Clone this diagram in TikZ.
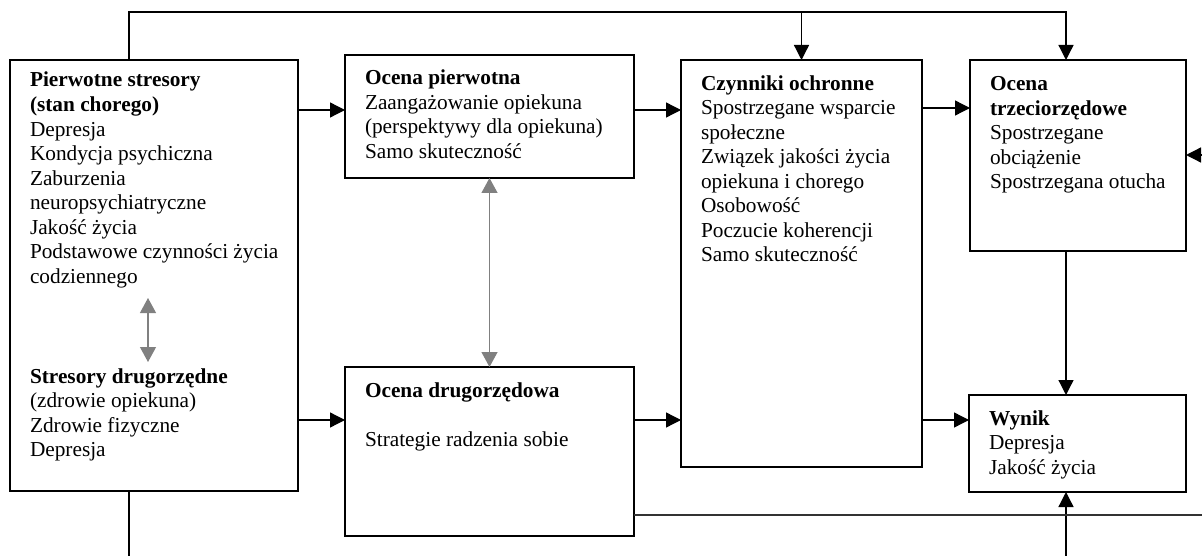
\documentclass[tikz,border=0pt]{standalone}
\usepackage{fontspec}
\setmainfont{Liberation Serif}
\usetikzlibrary{arrows.meta}
\newcommand{\fs}{\fontsize{21.3pt}{24.5pt}\selectfont}
\tikzset{
 box/.style={draw=black, line width=1.3pt, anchor=north west, inner sep=0pt, outer sep=0pt},
 txt/.style={anchor=north west, inner sep=0pt, outer sep=0pt, align=left, font=\fs},
 arr/.style={draw=black, line width=1.3pt, -{Triangle[length=15pt,width=15pt]}},
 ln/.style={draw=black, line width=1.3pt},
 thickln/.style={draw=black!80, line width=2.2pt},
 garr/.style={draw=black!50, line width=1.2pt, {Triangle[length=15pt,width=16pt]}-{Triangle[length=15pt,width=16pt]}},
}
\begin{document}
\begin{tikzpicture}[x=1pt,y=-1pt]
\useasboundingbox (0,0) rectangle (1202,556);
% boxes
\node[box, minimum width=288pt, minimum height=431pt] (L) at (10,60) {};
\node[box, minimum width=289pt, minimum height=123pt] (P) at (345,55) {};
\node[box, minimum width=289pt, minimum height=169pt] (D) at (345,367) {};
\node[box, minimum width=241pt, minimum height=407pt] (C) at (681,60) {};
\node[box, minimum width=216pt, minimum height=191pt] (T) at (970,60) {};
\node[box, minimum width=217pt, minimum height=97pt] (W) at (969,395) {};
% texts
\node[txt] (tL1) at (30,{87-17.15}) {\strut\textbf{Pierwotne stresory}\\\textbf{(stan chorego)}\\Depresja\\Kondycja psychiczna\\Zaburzenia\\neuropsychiatryczne\\Jakość życia\\Podstawowe czynności życia\\codziennego};
\node[txt] (tL2) at (30,{383-17.15}) {\strut\textbf{Stresory drugorzędne}\\(zdrowie opiekuna)\\Zdrowie fizyczne\\Depresja};
\node[txt] (tP) at (365,{85-17.15}) {\strut\textbf{Ocena pierwotna}\\Zaangażowanie opiekuna\\(perspektywy dla opiekuna)\\Samo skuteczność};
\node[txt] (tD) at (365,{397-17.15}) {\strut\textbf{Ocena drugorzędowa}\\[24.5pt]Strategie radzenia sobie};
\node[txt] (tC) at (701,{90-17.15}) {\strut\textbf{Czynniki ochronne}\\Spostrzegane wsparcie\\społeczne\\Związek jakości życia\\opiekuna i chorego\\Osobowość\\Poczucie koherencji\\Samo skuteczność};
\node[txt] (tT) at (990,{91-17.15}) {\strut\textbf{Ocena}\\\textbf{trzeciorzędowe}\\Spostrzegane\\obciążenie\\Spostrzegana otucha};
\node[txt] (tW) at (989,{425-17.15}) {\strut\textbf{Wynik}\\Depresja\\Jakość życia};
% helper coordinates
\coordinate (y110) at (0,110);
\coordinate (y108) at (0,108);
\coordinate (y155) at (0,155);
\coordinate (y420) at (0,420);
\coordinate (y515) at (0,515);
\coordinate (ytop) at (0,12);
\coordinate (ybot) at (0,557);
\coordinate (x129) at (129,0);
\coordinate (x801) at (801.5,0);
\coordinate (x1066) at (1066,0);
\coordinate (xr) at (1203,0);
\coordinate (g1) at (148,298);
\coordinate (g2) at (148,362);
% connectors
\draw[arr] (L.east |- y110) -- (P.west |- y110);
\draw[arr] (L.east |- y420) -- (D.west |- y420);
\draw[arr] (P.east |- y110) -- (C.west |- y110);
\draw[arr] (D.east |- y420) -- (C.west |- y420);
\draw[arr] (C.east |- y108) -- (T.west |- y108);
\draw[arr] (C.east |- y420) -- (W.west |- y420);
\draw[arr] (T.south -| x1066) -- (W.north -| x1066);
\draw[arr] (L.north -| x129) -- (x129 |- ytop) -- (x1066 |- ytop) -- (T.north -| x1066);
\draw[arr] (x801 |- ytop) -- (C.north);
\draw[ln] (L.south -| x129) -- (x129 |- ybot);
\draw[arr] (x1066 |- ybot) -- (W.south -| x1066);
\draw[arr] (xr |- y155) -- (T.east |- y155);
\draw[thickln] (D.east |- y515) -- (xr |- y515);
\draw[garr] (P.south) -- (D.north);
\draw[garr] (g1) -- (g2);
\end{tikzpicture}
\end{document}
